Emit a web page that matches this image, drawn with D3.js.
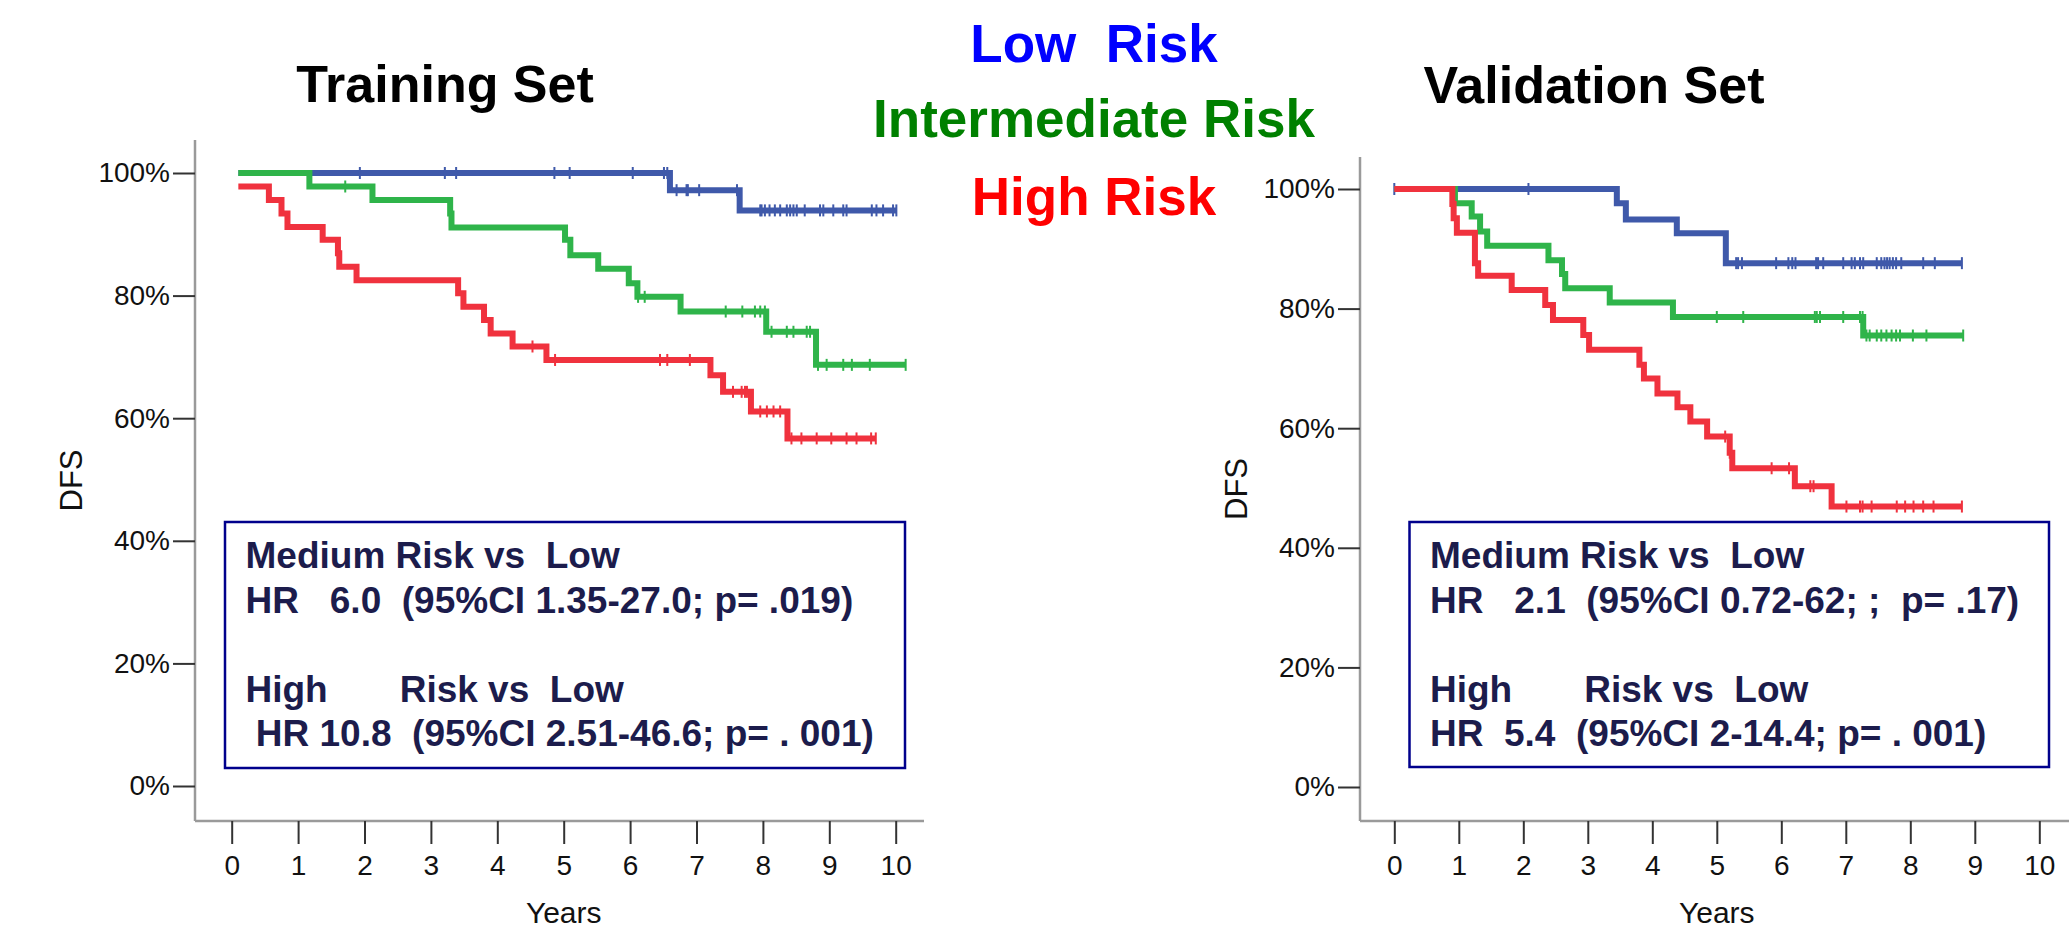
<!DOCTYPE html>
<html>
<head>
<meta charset="utf-8">
<script src="https://cdn.jsdelivr.net/npm/d3@7"></script>
<style>
    body { margin: 0; background: #fff; }
    svg { display: block; font-family: "Liberation Sans", Arial, sans-serif; }
    text { white-space: pre; }
</style>
</head>
<body>
<svg id="chart" width="2069" height="928"></svg>
<script>
// Axis ticks
const yearTicks = [0, 1, 2, 3, 4, 5, 6, 7, 8, 9, 10];
const pctTicks = [0, 0.2, 0.4, 0.6, 0.8, 1.0];

// Legend
const riskLabels = ['Low  Risk', 'Intermediate Risk', 'High Risk'];
const riskColors = ['#0000ff', '#008000', '#ff0000'];
const lineColors = ['#3f59aa', '#2fb44a', '#f0323e'];

// Training set - low risk
const trainLowTimes = [0.1, 6.60, 7.65];
const trainLowSurv = [1.0, 0.972, 0.939];
const trainLowEnd = 10.01;
const trainLowCensor = [1.93, 3.21, 3.38, 4.86, 5.09, 6.04, 6.51, 6.56, 6.70, 6.85, 6.87, 7.04, 7.61,
    7.96, 7.98, 8.03, 8.10, 8.18, 8.26, 8.36, 8.41, 8.46, 8.51, 8.63, 8.86, 8.91, 9.06, 9.21, 9.26,
    9.64, 9.71, 9.81, 9.96, 10.01];

// Training set - intermediate risk
const trainMidTimes = [0.1, 1.17, 2.12, 3.29, 3.31, 5.02, 5.10, 5.52, 5.98, 6.11, 6.76, 8.05, 8.80];
const trainMidSurv = [1.0, 0.978, 0.956, 0.934, 0.911, 0.891, 0.866, 0.844, 0.820, 0.798, 0.774, 0.741, 0.687];
const trainMidEnd = 10.15;
const trainMidCensor = [1.71, 6.12, 6.22, 7.44, 7.69, 7.88, 7.96, 8.03, 8.13, 8.36, 8.46, 8.66, 8.71,
    8.83, 8.96, 9.21, 9.34, 9.61, 10.15];

// Training set - high risk
const trainHighTimes = [0.1, 0.56, 0.75, 0.84, 1.37, 1.60, 1.62, 1.88, 3.41, 3.49, 3.80, 3.90, 4.23,
    4.74, 7.21, 7.40, 7.82, 8.37];
const trainHighSurv = [0.978, 0.956, 0.934, 0.912, 0.891, 0.869, 0.847, 0.825, 0.804, 0.782, 0.760,
    0.738, 0.717, 0.695, 0.670, 0.643, 0.611, 0.567];
const trainHighEnd = 9.70;
const trainHighCensor = [4.53, 4.87, 6.45, 6.56, 6.90, 7.55, 7.68, 7.73, 7.76, 7.96, 8.06, 8.16, 8.26,
    8.43, 8.58, 8.81, 9.03, 9.26, 9.41, 9.63, 9.70];

// Validation set - low risk
const validLowTimes = [0, 3.45, 3.59, 4.38, 5.14];
const validLowSurv = [1.0, 0.976, 0.949, 0.926, 0.876];
const validLowEnd = 8.80;
const validLowCensor = [0, 2.08, 5.30, 5.33, 5.39, 5.92, 6.11, 6.17, 6.22, 6.54, 6.57, 6.65, 6.96,
    7.09, 7.14, 7.22, 7.27, 7.48, 7.55, 7.60, 7.64, 7.68, 7.73, 7.78, 7.86, 8.20, 8.38, 8.80];

// Validation set - intermediate risk
const validMidTimes = [0, 0.94, 1.20, 1.33, 1.44, 2.39, 2.60, 2.65, 3.34, 4.32, 7.27];
const validMidSurv = [1.0, 0.976, 0.954, 0.929, 0.905, 0.881, 0.858, 0.834, 0.810, 0.786, 0.755];
const validMidEnd = 8.82;
const validMidCensor = [5.00, 5.41, 6.52, 6.55, 6.60, 6.96, 7.22, 7.26, 7.32, 7.37, 7.48, 7.55, 7.63,
    7.71, 7.78, 7.84, 8.04, 8.25, 8.82];

// Validation set - high risk
const validHighTimes = [0, 0.90, 0.92, 0.97, 1.25, 1.30, 1.82, 2.34, 2.46, 2.93, 3.02, 3.80, 3.87,
    4.08, 4.39, 4.59, 4.85, 5.20, 5.24, 6.21, 6.78];
const validHighSurv = [1.0, 0.975, 0.951, 0.927, 0.876, 0.855, 0.831, 0.806, 0.781, 0.756, 0.731,
    0.706, 0.683, 0.658, 0.635, 0.611, 0.586, 0.559, 0.533, 0.503, 0.469];
const validHighEnd = 8.80;
const validHighCensor = [5.13, 5.20, 5.85, 6.12, 6.45, 6.50, 7.01, 7.22, 7.26, 7.40, 7.79, 7.92, 8.05,
    8.20, 8.36, 8.80];

// Hazard ratio boxes
const trainBoxLines = ['Medium Risk vs  Low', 'HR   6.0  (95%CI 1.35-27.0; p= .019)', '',
    'High       Risk vs  Low', ' HR 10.8  (95%CI 2.51-46.6; p= . 001)'];
const validBoxLines = ['Medium Risk vs  Low', 'HR   2.1  (95%CI 0.72-62; ;  p= .17)', '',
    'High       Risk vs  Low', 'HR  5.4  (95%CI 2-14.4; p= . 001)'];

const FONT = '"Liberation Sans", Arial, sans-serif';
const svg = d3.select('#chart');

// Panels
const panels = [
    {
        title: 'Training Set', titleX: 445, titleY: 102,
        frame: {left: 195, top: 140, right: 924, bottom: 821},
        xRange: [231.7, 895.7], yRange: [786, 173],
        box: {x: 225, y: 522, w: 680, h: 246},
        boxLines: trainBoxLines,
        series: [
            {times: trainLowTimes, surv: trainLowSurv, end: trainLowEnd, censor: trainLowCensor},
            {times: trainMidTimes, surv: trainMidSurv, end: trainMidEnd, censor: trainMidCensor},
            {times: trainHighTimes, surv: trainHighSurv, end: trainHighEnd, censor: trainHighCensor}
        ]
    },
    {
        title: 'Validation Set', titleX: 1594, titleY: 103,
        frame: {left: 1360, top: 157, right: 2069, bottom: 821},
        xRange: [1394.3, 2039.3], yRange: [787, 189],
        box: {x: 1409.5, y: 522, w: 639.5, h: 245},
        boxLines: validBoxLines,
        series: [
            {times: validLowTimes, surv: validLowSurv, end: validLowEnd, censor: validLowCensor},
            {times: validMidTimes, surv: validMidSurv, end: validMidEnd, censor: validMidCensor},
            {times: validHighTimes, surv: validHighSurv, end: validHighEnd, censor: validHighCensor}
        ]
    }
];

function drawPanel(p) {
    const g = svg.append('g');
    const f = p.frame;

    const x = d3.scaleLinear().domain([0, 10]).range(p.xRange);
    const y = d3.scaleLinear().domain([0, 1]).range(p.yRange);

    // Frame lines
    g.append('line')
        .attr('x1', f.left).attr('x2', f.left)
        .attr('y1', f.top).attr('y2', f.bottom)
        .attr('stroke', '#9a9a9a').attr('stroke-width', 2.5);
    g.append('line')
        .attr('x1', f.left).attr('x2', f.right)
        .attr('y1', f.bottom).attr('y2', f.bottom)
        .attr('stroke', '#9a9a9a').attr('stroke-width', 2.5);

    // X axis
    const gx = g.append('g')
        .attr('transform', `translate(0,${f.bottom})`)
        .call(d3.axisBottom(x).tickValues(yearTicks).tickSize(23).tickPadding(11).tickSizeOuter(0));
    gx.select('.domain').remove();
    gx.attr('font-size', 28).attr('font-family', FONT);
    gx.selectAll('line').attr('stroke', '#333').attr('stroke-width', 2);
    gx.selectAll('text').attr('fill', '#111');

    // Y axis
    const gy = g.append('g')
        .attr('transform', `translate(${f.left},0)`)
        .call(d3.axisLeft(y).tickValues(pctTicks).tickFormat(d3.format('.0%')).tickSize(22).tickPadding(3).tickSizeOuter(0));
    gy.select('.domain').remove();
    gy.attr('font-size', 28).attr('font-family', FONT);
    gy.selectAll('line').attr('stroke', '#333').attr('stroke-width', 2);
    gy.selectAll('text').attr('fill', '#111');

    // Axis titles
    g.append('text')
        .attr('x', x(5)).attr('y', 923)
        .attr('text-anchor', 'middle')
        .attr('font-size', 30).attr('fill', '#111')
        .text('Years');
    const midY = (f.top + f.bottom) / 2;
    g.append('text')
        .attr('transform', `translate(${f.left - 113},${midY}) rotate(-90)`)
        .attr('text-anchor', 'middle')
        .attr('font-size', 31).attr('fill', '#111')
        .text('DFS');

    // Curves
    const line = d3.line()
        .x(d => x(d[0]))
        .y(d => y(d[1]))
        .curve(d3.curveStepAfter);

    p.series.forEach((s, i) => {
        const pts = s.times.map((t, k) => [t, s.surv[k]]);
        pts.push([s.end, s.surv[s.surv.length - 1]]);
        g.append('path')
            .datum(pts)
            .attr('d', line)
            .attr('fill', 'none')
            .attr('stroke', lineColors[i])
            .attr('stroke-width', 6)
            .attr('stroke-linejoin', 'miter')
            .attr('stroke-linecap', 'butt');

        const bis = d3.bisectRight;
        g.selectAll(null)
            .data(s.censor)
            .enter()
            .append('line')
            .attr('x1', d => x(d)).attr('x2', d => x(d))
            .attr('y1', d => y(s.surv[Math.max(0, bis(s.times, d) - 1)]) - 6)
            .attr('y2', d => y(s.surv[Math.max(0, bis(s.times, d) - 1)]) + 6)
            .attr('stroke', lineColors[i])
            .attr('stroke-width', 2);
    });

    // HR box
    g.append('rect')
        .attr('x', p.box.x).attr('y', p.box.y)
        .attr('width', p.box.w).attr('height', p.box.h)
        .attr('fill', '#fff')
        .attr('stroke', '#00008c').attr('stroke-width', 2.5);

    g.selectAll('.boxline')
        .data(p.boxLines)
        .enter()
        .append('text')
        .attr('class', 'boxline')
        .attr('x', p.box.x + 20.5)
        .attr('y', (d, i) => p.box.y + 46 + i * 44.6)
        .attr('font-size', 37).attr('font-weight', 'bold')
        .attr('fill', '#1c1c4c')
        .text(d => d);

    // Panel title
    svg.append('text')
        .attr('x', p.titleX).attr('y', p.titleY)
        .attr('text-anchor', 'middle')
        .attr('font-size', 52).attr('font-weight', 'bold')
        .attr('fill', '#000')
        .text(p.title);
}

panels.forEach(drawPanel);

// Risk legend
svg.selectAll('.risk')
    .data(riskLabels)
    .enter()
    .append('text')
    .attr('class', 'risk')
    .attr('x', 1094)
    .attr('y', (d, i) => [62, 137, 215][i])
    .attr('text-anchor', 'middle')
    .attr('font-size', 53).attr('font-weight', 'bold')
    .attr('fill', (d, i) => riskColors[i])
    .text(d => d);
</script>
</body>
</html>
